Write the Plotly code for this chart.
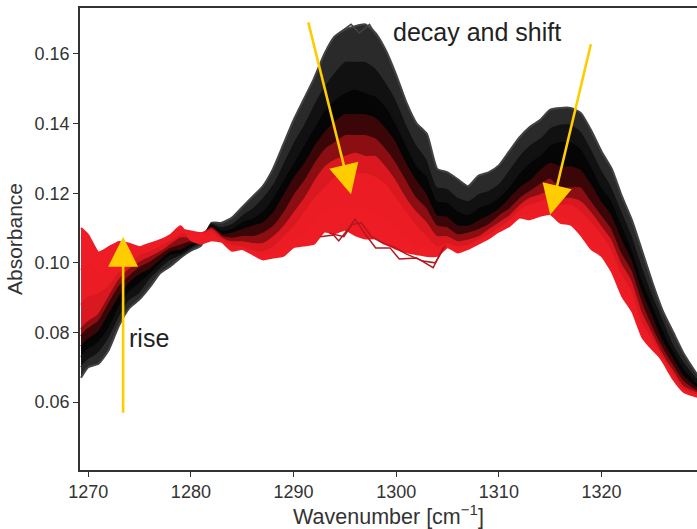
import plotly.graph_objects as go

wavenumber = [1269.3,1270,1271,1272,1273,1274,1275,1276,1277,1278,1279,1280,1281,
 1282,1283,1284,1285,1286,1287,1288,1289,1290,1291,1292,1293,1294,1295,1296,1297,1298,1299,
 1300,1301,1302,1303,1304,1305,1306,1307,1308,1309,1310,1311,1312,1313,1314,1315,1316,1317,1318,1319,
 1320,1321,1322,1323,1324,1325,1326,1327,1328,1329.3]

s0 = [.067,.070,.071,.075,.082,.087,.0895,.093,.097,.099,.1015,.1035,.105,
 .1115,.1115,.113,.116,.119,.122,.127,.134,.141,.147,.153,.160,.165,.167,.168,.1685,.166,.161,
 .154,.146,.140,.137,.127,.126,.124,.122,.125,.126,.128,.132,.136,.139,.141,.144,.1445,.1445,.143,.138,
 .132,.127,.119,.112,.103,.094,.086,.080,.074,.068]
s1 = [.070,.072,.074,.078,.084,.089,.091,.095,.098,.1005,.102,.104,.106,
 .1112,.1105,.1115,.114,.116,.119,.123,.129,.135,.140,.146,.151,.155,.158,.158,.158,.156,.152,
 .147,.140,.134,.130,.122,.1215,.119,.118,.120,.121,.123,.127,.131,.134,.136,.139,.140,.140,.138,.133,
 .127,.122,.115,.108,.099,.091,.084,.077,.072,.067]
s2 = [.073,.075,.077,.081,.087,.0915,.094,.0965,.0995,.102,.1025,.1045,.1065,
 .111,.1095,.110,.112,.113,.115,.119,.124,.129,.134,.139,.144,.147,.149,.150,.149,.148,.145,
 .140,.134,.128,.125,.118,.1175,.115,.114,.116,.117,.119,.122,.126,.129,.131,.134,.135,.135,.133,.128,
 .122,.118,.111,.104,.095,.088,.081,.075,.070,.0655]
s3 = [.076,.078,.080,.085,.090,.094,.0965,.098,.1005,.103,.1035,.105,.107,
 .1105,.1085,.109,.110,.111,.112,.115,.120,.125,.129,.134,.138,.141,.143,.143,.143,.142,.139,
 .135,.129,.124,.120,.114,.1135,.111,.111,.1125,.114,.116,.119,.122,.124,.127,.129,.128,.128,.127,.123,
 .118,.114,.107,.101,.092,.085,.078,.073,.068,.0645]
s4 = [.079,.081,.083,.088,.093,.096,.0985,.100,.102,.104,.105,.106,.1075,
 .110,.108,.1075,.108,.108,.109,.111,.115,.120,.124,.129,.133,.135,.137,.137,.137,.136,.133,
 .129,.124,.119,.116,.111,.1105,.1085,.109,.110,.1115,.114,.116,.119,.121,.123,.1245,.122,.122,.122,.118,
 .114,.110,.103,.098,.089,.082,.076,.071,.0665,.0635]
s5 = [.081,.083,.085,.090,.095,.098,.100,.1015,.103,.105,.107,.107,.108,
 .110,.1075,.1065,.1065,.106,.106,.108,.111,.115,.119,.124,.128,.130,.131,.132,.131,.131,.128,
 .124,.119,.115,.112,.108,.108,.1065,.107,.108,.110,.112,.114,.117,.119,.120,.121,.119,.119,.118,.115,
 .111,.107,.100,.095,.086,.080,.074,.0695,.065,.063]
s6 = [.088,.090,.091,.093,.097,.099,.102,.103,.1045,.106,.108,.1085,.1085,
 .1095,.107,.1055,.105,.104,.1035,.105,.108,.111,.115,.119,.122,.125,.126,.126,.126,.125,.123,
 .119,.115,.111,.108,.105,.106,.105,.1055,.107,.1085,.1105,.1125,.1155,.117,.118,.119,.117,.117,.115,.112,
 .1085,.104,.097,.092,.083,.078,.073,.068,.064,.0625]
s7 = [.098,.100,.097,.098,.100,.102,.1035,.1045,.1055,.1075,.1095,.109,.1085,
 .108,.1065,.1045,.1045,.103,.102,.103,.1045,.1065,.109,.112,.115,.116,.117,.116,.116,.115,.113,
 .110,.108,.105,.1045,.104,.1055,.104,.1045,.106,.1075,.1095,.111,.114,.1145,.1155,.116,.114,.113,.1105,.1065,
 .104,.0995,.093,.088,.080,.076,.0715,.0665,.063,.062]
s8 = [.110,.108,.103,.1045,.106,.1055,.1045,.1055,.1065,.108,.1105,.1065,.1055,
 .1065,.106,.1035,.104,.1025,.101,.1015,.102,.1045,.105,.1055,.109,.1085,.1095,.108,.107,.107,.1055,
 .104,.103,.1025,.102,.102,.1045,.103,.104,.1055,.107,.109,.1105,.113,.1125,.1135,.114,.1115,.111,.108,.104,
 .102,.0975,.0905,.086,.0785,.075,.072,.067,.063,.0615]

series = [s0, s1, s2, s3, s4, s5, s6, s7, s8]
colors = ["#424242", "#2a2a2a", "#111111", "#050505", "#3a0608", "#8a0e12", "#d9181f", "#ec1c24", "#ee1c25"]

out_x1 = [1292.6,1293.9,1294.4,1295.4,1296.0,1296.9,1298.0,1299.4,1300.3,1302.0,1303.6,1304.6]
out_y1 = [.1075,.108,.1063,.110,.1126,.1086,.1043,.1043,.1011,.1014,.0986,.1045]
out_x2 = [1293.5,1294.9,1295.7,1296.6,1297.6,1298.8,1299.8,1301.0,1302.6,1303.8,1304.8]
out_y2 = [.1085,.1075,.111,.1115,.1075,.1055,.1045,.1025,.1005,.1000,.105]
out_x3 = [1294.2,1295.6,1296.4,1297.4,1298.0]
out_y3 = [.1655,.1685,.166,.1685,.1655]

fig = go.Figure()
for i, (s, c) in enumerate(zip(series, colors)):
    fig.add_trace(go.Scatter(x=wavenumber, y=s, mode="lines", line=dict(color=c, width=2, shape="spline", smoothing=0.5),
                             fill=None if i == 0 else "tonexty", fillcolor=c, showlegend=False))
for xs, ys, c in [(out_x1, out_y1, "#b3161c"), (out_x2, out_y2, "#b3161c"), (out_x3, out_y3, "#424242")]:
    fig.add_trace(go.Scatter(x=xs, y=ys, mode="lines", line=dict(color=c, width=1.5), showlegend=False))

YEL = "#FFCC00"
arrows = [((1273.4, .0565), (1273.4, .1075)),
          ((1291.4, .1695), (1295.6, .1197)),
          ((1319.0, .1632), (1315.0, .1138))]
for (x0, y0), (x1, y1) in arrows:
    fig.add_annotation(x=x1, y=y1, ax=x0, ay=y0, xref="x", yref="y", axref="x", ayref="y", text="",
                       showarrow=True, arrowhead=2, arrowsize=2.3, arrowwidth=2.6, arrowcolor=YEL)
fig.add_annotation(x=1299.5, y=.1663, xref="x", yref="y", xanchor="left", yanchor="middle",
                   text="decay and shift", showarrow=False, font=dict(size=25, color="#222"))
fig.add_annotation(x=1273.8, y=.0784, xref="x", yref="y", xanchor="left", yanchor="middle",
                   text="rise", showarrow=False, font=dict(size=25, color="#222"))

axis_font = dict(family="Liberation Sans, Arial, sans-serif", size=18, color="#333")
fig.update_layout(
    width=697, height=529, margin=dict(l=80, r=0, t=8, b=59),
    paper_bgcolor="white", plot_bgcolor="white",
    font=dict(family="Liberation Sans, Arial, sans-serif"),
    xaxis=dict(range=[1269.2, 1329.3], tickvals=[1270,1280,1290,1300,1310,1320], ticks="outside", ticklen=5,
               tickcolor="#333", showgrid=False, zeroline=False, showline=True, linecolor="#333", linewidth=1.5,
               mirror=True, tickfont=axis_font,
               title=dict(text="Wavenumber [cm<sup>−1</sup>]", font=dict(size=21.5, color="#333"), standoff=4)),
    yaxis=dict(range=[.0405, .1732], tickvals=[.06,.08,.10,.12,.14,.16], tickformat=".2f", ticks="outside", ticklen=5,
               tickcolor="#333", showgrid=False, zeroline=False, showline=True, linecolor="#333", linewidth=1.5,
               tickfont=axis_font,
               title=dict(text="Absorbance", font=dict(size=21, color="#333"), standoff=6)),
)
fig.write_html("out.html", config=dict(displayModeBar=False), post_script="document.body.style.margin='0';")
